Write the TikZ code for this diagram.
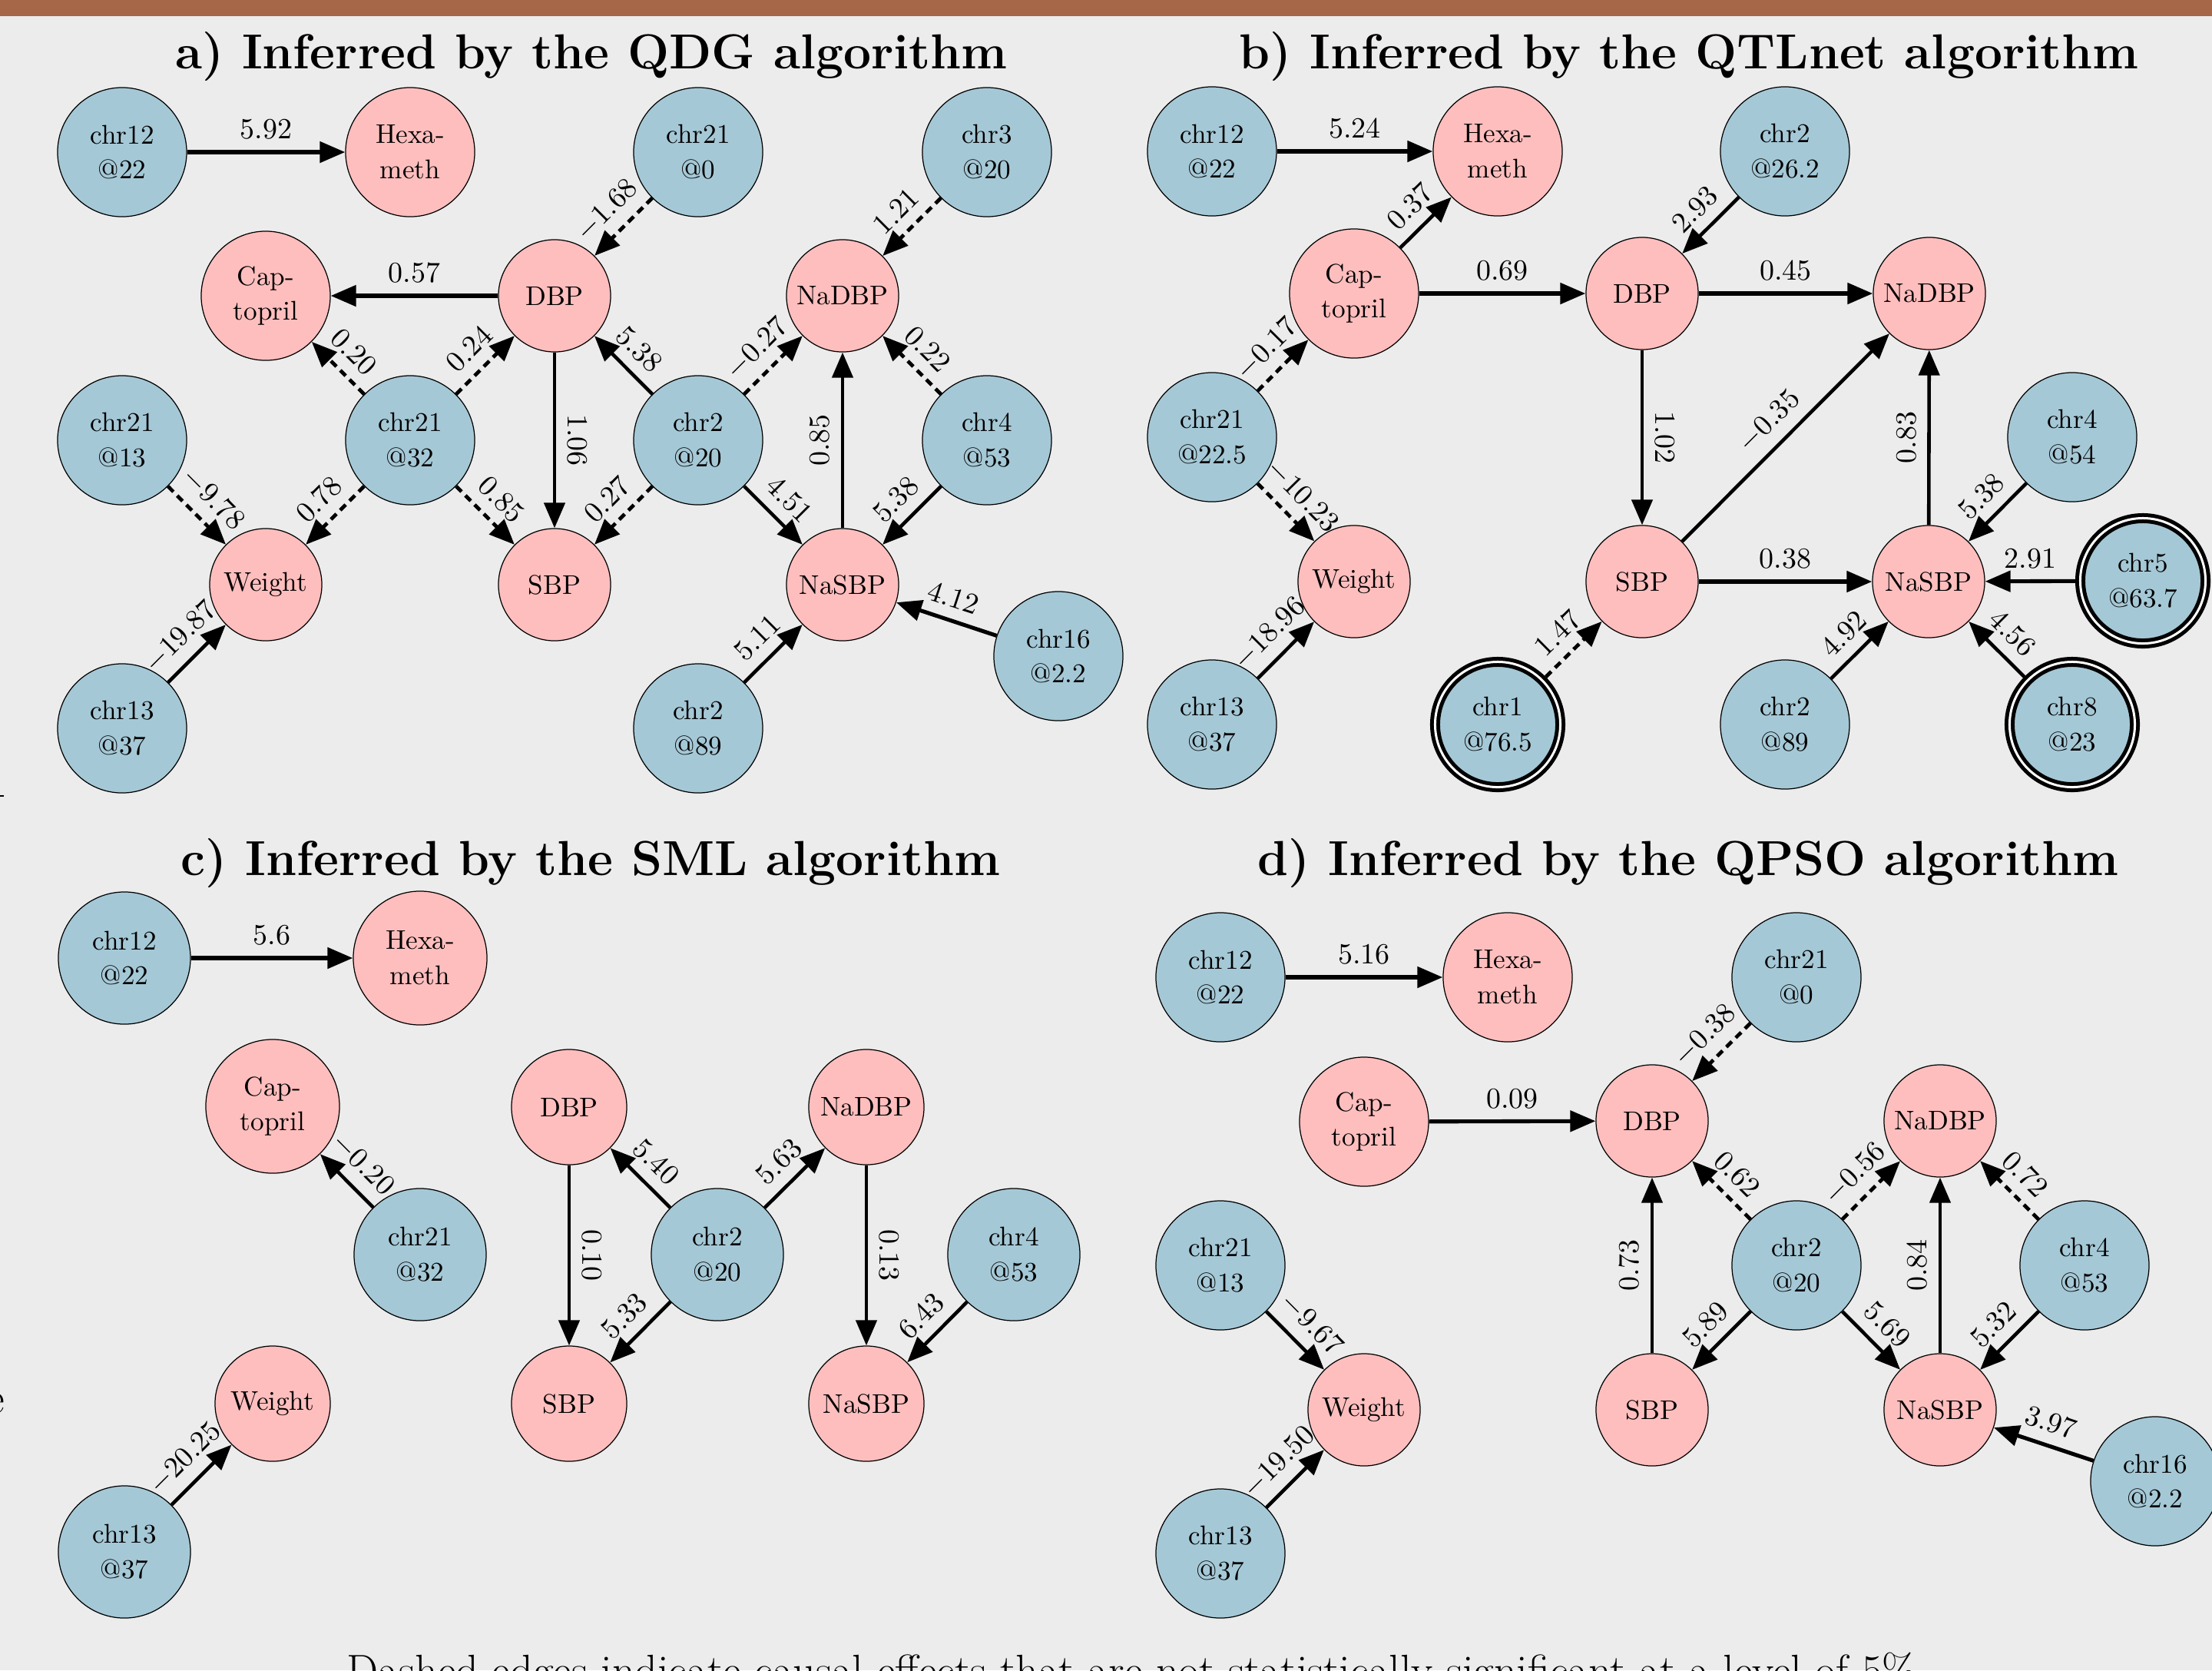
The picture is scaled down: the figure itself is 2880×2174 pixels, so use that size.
\documentclass[tikz,border=0pt]{standalone}
\usetikzlibrary{arrows.meta}
\definecolor{bgc}{RGB}{236,236,236}
\definecolor{qblue}{RGB}{165,200,214}
\definecolor{ppink}{RGB}{255,190,190}
\definecolor{barbrown}{RGB}{166,102,72}
\begin{document}
\begin{tikzpicture}[x=0.01cm, y=-0.01cm,
  base/.style={circle, draw=black, line width=0.35pt, inner sep=0pt, align=center, font=\fontsize{10}{13}\selectfont},
  qtl/.style={base, fill=qblue, minimum size=1.68cm},
  ph/.style={base, fill=ppink, minimum size=1.46cm},
  phtwo/.style={base, fill=ppink, minimum size=1.68cm},
  dbl/.style={base, fill=qblue, minimum size=1.63cm, line width=0.05cm, double=white, double distance=0.03cm, outer sep=0.065cm},
  e/.style={draw, line width=1.3pt, -{Triangle[length=0.33cm,width=0.27cm]}},
  hz/.style={line width=1.45pt},
  dsh/.style={line width=1.35pt, dash pattern=on 0.1cm off 0.07cm},
  lbl/.style={sloped, above, inner sep=4pt, font=\fontsize{10.8}{13}\selectfont},
  ttl/.style={anchor=base, inner sep=0pt, font=\fontsize{18.2}{21}\selectfont\bfseries},
  captxt/.style={anchor=base, inner sep=0pt, font=\fontsize{16.5}{19}\selectfont},
]
\useasboundingbox (0,0) rectangle (2880,2174);
\clip (0,0) rectangle (2880,2174);
\fill[bgc] (0,0) rectangle (2880,2174);
\fill[barbrown] (0,0) rectangle (2880,21);
\draw[line width=0.015cm] (0,1036) -- (5,1036);
\node[captxt, anchor=base east] (frag) at (7,1839) {e};

% ---------- titles
\node[ttl] (ta) at (770,89) {a) Inferred by the QDG algorithm};
\node[ttl] (tb) at (2199,89) {b) Inferred by the QTLnet algorithm};
\node[ttl] (tc) at (769,1139) {c) Inferred by the SML algorithm};
\node[ttl] (td) at (2198,1139) {d) Inferred by the QPSO algorithm};
\node[captxt] (caption) at (1481,2194) {Dashed edges indicate causal effects that are not statistically significant at a level of 5\%.};

% ---------- panel a
\node[qtl] (a12) at (159,198) {chr12\\@22};
\node[phtwo] (ahex) at (534,198) {Hexa-\\meth};
\node[qtl] (a210) at (909,198) {chr21\\@0};
\node[qtl] (a3) at (1285,198) {chr3\\@20};
\node[phtwo] (acap) at (346,385) {Cap-\\topril};
\node[ph] (adbp) at (722,385) {DBP};
\node[ph] (anadbp) at (1097,385) {NaDBP};
\node[qtl] (a2113) at (159,573) {chr21\\@13};
\node[qtl] (a2132) at (534,573) {chr21\\@32};
\node[qtl] (a220) at (909,573) {chr2\\@20};
\node[qtl] (a4) at (1285,573) {chr4\\@53};
\node[ph] (awt) at (346,761) {Weight};
\node[ph] (asbp) at (722,761) {SBP};
\node[ph] (anasbp) at (1097,761) {NaSBP};
\node[qtl] (a16) at (1378,854) {chr16\\@2.2};
\node[qtl] (a13) at (159,948) {chr13\\@37};
\node[qtl] (a289) at (909,948) {chr2\\@89};

\draw[e,hz] (a12) -- node[lbl]{5.92} (ahex);
\draw[e,dsh] (a210) -- node[lbl]{$-$1.68} (adbp);
\draw[e,dsh] (a3) -- node[lbl]{1.21} (anadbp);
\draw[e,hz] (adbp) -- node[lbl]{0.57} (acap);
\draw[e,dsh] (a2132) -- node[lbl]{0.20} (acap);
\draw[e,dsh] (a2132) -- node[lbl]{0.24} (adbp);
\draw[e] (a220) -- node[lbl]{5.38} (adbp);
\draw[e,dsh] (a220) -- node[lbl]{$-$0.27} (anadbp);
\draw[e,dsh] (a4) -- node[lbl]{0.22} (anadbp);
\draw[e] (adbp) -- node[lbl]{1.06} (asbp);
\draw[e] (anasbp) -- node[lbl]{0.85} (anadbp);
\draw[e,dsh] (a2113) -- node[lbl]{$-$9.78} (awt);
\draw[e,dsh] (a2132) -- node[lbl]{0.78} (awt);
\draw[e,dsh] (a2132) -- node[lbl]{0.85} (asbp);
\draw[e,dsh] (a220) -- node[lbl]{0.27} (asbp);
\draw[e] (a220) -- node[lbl]{4.51} (anasbp);
\draw[e] (a4) -- node[lbl]{5.38} (anasbp);
\draw[e] (a13) -- node[lbl]{$-$19.87} (awt);
\draw[e] (a289) -- node[lbl]{5.11} (anasbp);
\draw[e,hz] (a16) -- node[lbl]{4.12} (anasbp);

% ---------- panel b
\node[qtl] (b12) at (1578,197) {chr12\\@22};
\node[phtwo] (bhex) at (1950,197) {Hexa-\\meth};
\node[qtl] (b226) at (2324,197) {chr2\\@26.2};
\node[phtwo] (bcap) at (1763,382) {Cap-\\topril};
\node[ph] (bdbp) at (2138,382) {DBP};
\node[ph] (bnadbp) at (2512,382) {NaDBP};
\node[qtl] (b21) at (1578,569) {chr21\\@22.5};
\node[qtl] (b4) at (2698,569) {chr4\\@54};
\node[ph] (bwt) at (1763,757) {Weight};
\node[ph] (bsbp) at (2138,757) {SBP};
\node[ph] (bnasbp) at (2511,757) {NaSBP};
\node[dbl] (b5) at (2790,756) {chr5\\@63.7};
\node[qtl] (b13) at (1578,943) {chr13\\@37};
\node[dbl] (b1) at (1950,943) {chr1\\@76.5};
\node[qtl] (b289) at (2324,943) {chr2\\@89};
\node[dbl] (b8) at (2698,943) {chr8\\@23};

\draw[e,hz] (b12) -- node[lbl]{5.24} (bhex);
\draw[e] (bcap) -- node[lbl]{0.37} (bhex);
\draw[e] (b226) -- node[lbl]{2.93} (bdbp);
\draw[e,hz] (bcap) -- node[lbl]{0.69} (bdbp);
\draw[e,hz] (bdbp) -- node[lbl]{0.45} (bnadbp);
\draw[e,dsh] (b21) -- node[lbl]{$-$0.17} (bcap);
\draw[e] (bdbp) -- node[lbl]{1.02} (bsbp);
\draw[e] (bsbp) -- node[lbl]{$-$0.35} (bnadbp);
\draw[e] (bnasbp) -- node[lbl]{0.83} (bnadbp);
\draw[e] (b4) -- node[lbl]{5.38} (bnasbp);
\draw[e,dsh] (b21) -- node[lbl]{$-$10.23} (bwt);
\draw[e,hz] (bsbp) -- node[lbl]{0.38} (bnasbp);
\draw[e,hz] (b5) -- node[lbl]{2.91} (bnasbp);
\draw[e] (b13) -- node[lbl]{$-$18.96} (bwt);
\draw[e,dsh] (b1) -- node[lbl]{1.47} (bsbp);
\draw[e] (b289) -- node[lbl]{4.92} (bnasbp);
\draw[e] (b8) -- node[lbl]{4.56} (bnasbp);

% ---------- panel c
\begin{scope}[qtl/.append style={minimum size=1.72cm}, phtwo/.append style={minimum size=1.74cm}, ph/.append style={minimum size=1.5cm}]
\node[qtl] (c12) at (162,1247) {chr12\\@22};
\node[phtwo] (chex) at (547,1247) {Hexa-\\meth};
\node[phtwo] (ccap) at (355,1440) {Cap-\\topril};
\node[ph] (cdbp) at (741,1441) {DBP};
\node[ph] (cnadbp) at (1128,1441) {NaDBP};
\node[qtl] (c21) at (547,1633) {chr21\\@32};
\node[qtl] (c2) at (934,1633) {chr2\\@20};
\node[qtl] (c4) at (1320,1633) {chr4\\@53};
\node[ph] (cwt) at (355,1827) {Weight};
\node[ph] (csbp) at (741,1827) {SBP};
\node[ph] (cnasbp) at (1128,1827) {NaSBP};
\node[qtl] (c13) at (162,2020) {chr13\\@37};
\end{scope}

\draw[e,hz] (c12) -- node[lbl]{5.6} (chex);
\draw[e] (c21) -- node[lbl]{$-$0.20} (ccap);
\draw[e] (c2) -- node[lbl]{5.40} (cdbp);
\draw[e] (c2) -- node[lbl]{5.63} (cnadbp);
\draw[e] (cdbp) -- node[lbl]{0.10} (csbp);
\draw[e] (cnadbp) -- node[lbl]{0.13} (cnasbp);
\draw[e] (c2) -- node[lbl]{5.33} (csbp);
\draw[e] (c4) -- node[lbl]{6.43} (cnasbp);
\draw[e] (c13) -- node[lbl]{$-$20.25} (cwt);

% ---------- panel d
\node[qtl] (d12) at (1589,1272) {chr12\\@22};
\node[phtwo] (dhex) at (1963,1272) {Hexa-\\meth};
\node[qtl] (d210) at (2339,1272) {chr21\\@0};
\node[phtwo] (dcap) at (1776,1460) {Cap-\\topril};
\node[ph] (ddbp) at (2151,1459) {DBP};
\node[ph] (dnadbp) at (2526,1459) {NaDBP};
\node[qtl] (d2113) at (1589,1647) {chr21\\@13};
\node[qtl] (d2) at (2339,1647) {chr2\\@20};
\node[qtl] (d4) at (2714,1647) {chr4\\@53};
\node[ph] (dwt) at (1776,1835) {Weight};
\node[ph] (dsbp) at (2151,1835) {SBP};
\node[ph] (dnasbp) at (2526,1835) {NaSBP};
\node[qtl] (d16) at (2806,1928) {chr16\\@2.2};
\node[qtl] (d13) at (1589,2022) {chr13\\@37};

\draw[e,hz] (d12) -- node[lbl]{5.16} (dhex);
\draw[e,dsh] (d210) -- node[lbl]{$-$0.38} (ddbp);
\draw[e,hz] (dcap) -- node[lbl]{0.09} (ddbp);
\draw[e,dsh] (d2) -- node[lbl]{0.62} (ddbp);
\draw[e,dsh] (d2) -- node[lbl]{$-$0.56} (dnadbp);
\draw[e,dsh] (d4) -- node[lbl]{0.72} (dnadbp);
\draw[e] (dsbp) -- node[lbl]{0.73} (ddbp);
\draw[e] (dnasbp) -- node[lbl]{0.84} (dnadbp);
\draw[e] (d2113) -- node[lbl]{$-$9.67} (dwt);
\draw[e] (d2) -- node[lbl]{5.89} (dsbp);
\draw[e] (d2) -- node[lbl]{5.69} (dnasbp);
\draw[e] (d4) -- node[lbl]{5.32} (dnasbp);
\draw[e,hz] (d16) -- node[lbl]{3.97} (dnasbp);
\draw[e] (d13) -- node[lbl]{$-$19.50} (dwt);
\end{tikzpicture}
\end{document}
